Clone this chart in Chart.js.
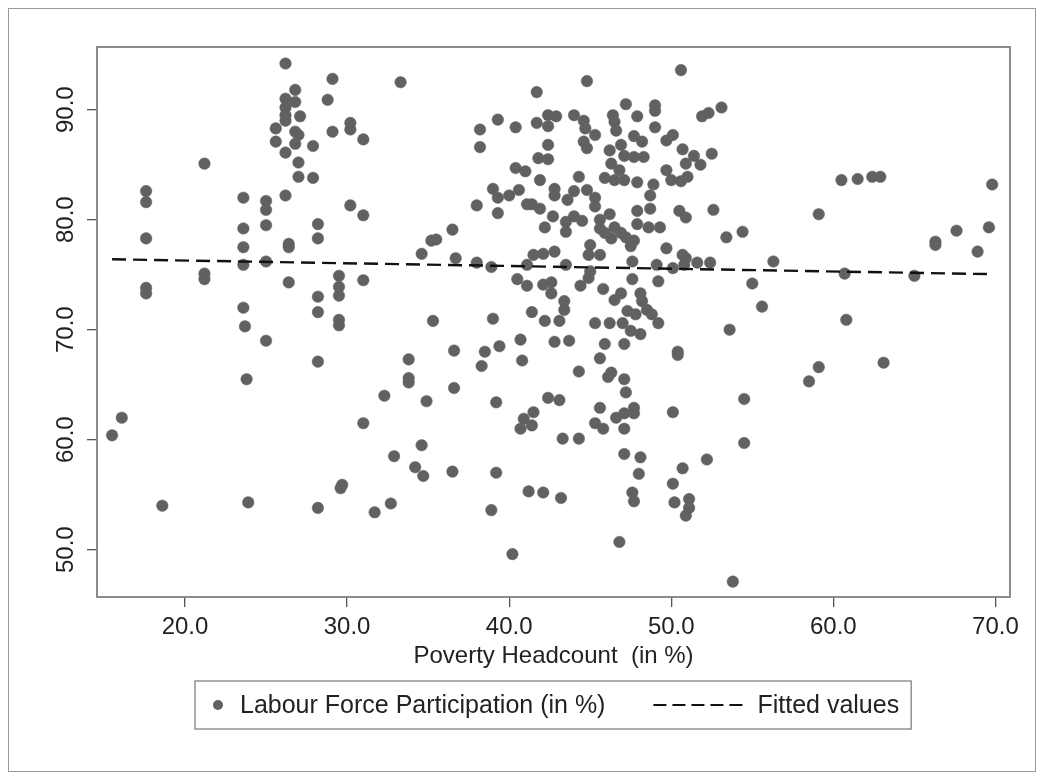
<!DOCTYPE html>
<html lang="en">
<head>
<meta charset="UTF-8">
<title>Labour Force Participation vs Poverty Headcount</title>
<script src="https://cdn.jsdelivr.net/npm/chart.js"></script>
<style>
  body { margin: 0; background: #fff; }
  .wrap { position: relative; width: 1043px; height: 779px; }
  .outer { position: absolute; left: 8px; top: 8px; width: 1026px; height: 762px; border: 1px solid #9a9a9a; pointer-events: none; }
</style>
</head>
<body>
<div class="wrap">
  <canvas id="scatter" width="1043" height="779"></canvas>
  <div class="outer"></div>
</div>
<script>
// values
const povertyHeadcount = [
  26.2, 29.1, 33.3, 26.8, 26.2, 26.8, 28.8, 26.2, 26.2, 27.1, 26.2, 25.6, 26.8, 27.0, 29.1, 30.2, 30.2, 31.0, 25.6, 26.8,
  27.9, 26.2, 27.0, 21.2, 27.0, 27.9, 17.6, 17.6, 23.6, 25.0, 25.0, 26.2, 30.2, 31.0, 23.6, 25.0, 28.2, 28.2, 17.6, 23.6,
  26.4, 26.4, 23.6, 25.0, 21.2, 21.2, 26.4, 29.5, 29.5, 29.5, 31.0, 17.6, 17.6, 28.2, 28.2, 23.6, 29.5, 23.7,
  29.5, 25.0, 28.2, 23.8, 32.3, 31.0, 32.9, 16.1, 15.5, 18.6, 23.9, 28.2, 29.7, 29.6, 31.7, 32.7,
  35.3, 39.0, 42.2, 43.1, 45.3, 46.2, 47.0, 49.2, 47.5, 48.1, 33.8, 33.8, 33.8, 36.6, 36.6, 34.9, 38.5, 39.4, 38.3, 40.7,
  40.8, 39.2, 42.8, 43.7, 44.3, 45.6, 45.9, 47.1, 46.1, 46.3, 47.1, 47.2, 50.4, 50.4, 42.4, 43.1, 41.5, 40.9, 41.4, 40.7,
  45.6, 45.3, 45.8, 46.6, 47.1, 47.7, 47.7, 47.1, 43.3, 44.3, 50.1, 52.2, 47.1, 48.1, 48.0, 50.7, 50.1, 50.2, 51.1, 51.1,
  50.9, 47.6, 47.7, 34.6, 34.2, 34.7, 36.5, 39.2, 41.2, 42.1, 43.2, 38.9, 40.2, 46.8,
  53.6, 60.8, 63.1, 59.1, 58.5, 54.5, 54.5, 53.8,
  53.1, 52.3, 51.9, 52.5, 52.6, 53.4, 54.4, 56.3, 55.0, 55.6, 59.1, 60.5, 61.5, 62.4, 62.9, 60.7, 65.0, 66.3, 66.3, 67.6,
  68.9, 69.6, 69.8,
  44.8, 50.6, 41.7, 47.2, 49.0, 49.0, 39.3, 38.2, 38.2, 40.4, 41.7, 42.4, 42.9, 42.4, 44.0, 44.6, 44.7, 45.3, 44.6, 44.8,
  46.4, 46.5, 46.6, 47.9, 49.0, 47.7, 48.2, 46.9, 46.2, 47.1, 47.7, 48.3, 49.7, 50.1, 50.7, 51.4, 51.8, 50.9, 49.7, 50.0,
  50.6, 51.0, 46.3, 46.8, 45.9, 46.5, 47.1, 47.9, 48.9, 48.7, 47.9, 48.7, 47.9, 48.6, 49.3, 50.5, 50.9, 41.9, 41.8, 42.4,
  42.4, 40.4, 41.0, 44.3, 42.8, 42.8, 44.0, 43.6, 44.8, 45.3, 45.3, 39.0, 39.3, 40.0, 40.6, 38.0, 39.3, 41.1, 41.4, 41.9,
  42.7, 42.2, 43.5, 43.5, 44.0, 44.5, 45.6, 46.2, 45.6, 45.9, 46.5, 46.3, 46.9, 47.2, 47.7, 47.5, 49.7, 50.7, 50.9, 51.6,
  52.4, 50.1, 50.8, 49.1, 47.6, 47.6, 49.2, 45.0, 44.9, 45.6, 45.0, 44.9, 44.4, 41.5, 42.1, 42.8, 43.5, 41.1, 38.0, 38.9,
  36.7, 34.6, 35.2, 35.5, 36.5, 40.5, 41.1, 42.1, 42.6, 42.6, 43.4, 43.4, 41.4, 45.8, 46.5, 46.9, 48.1, 48.2, 48.5, 47.3,
  47.8, 48.8
];
const labourForce = [
  94.2, 92.8, 92.5, 91.8, 91.0, 90.7, 90.9, 90.2, 89.5, 89.4, 89.0, 88.3, 88.0, 87.7, 88.0, 88.8, 88.2, 87.3, 87.1, 86.9,
  86.7, 86.1, 85.2, 85.1, 83.9, 83.8, 82.6, 81.6, 82.0, 81.7, 80.9, 82.2, 81.3, 80.4, 79.2, 79.5, 79.6, 78.3, 78.3, 77.5,
  77.8, 77.5, 75.9, 76.2, 75.1, 74.6, 74.3, 74.9, 73.9, 73.1, 74.5, 73.8, 73.3, 73.0, 71.6, 72.0, 70.9, 70.3,
  70.4, 69.0, 67.1, 65.5, 64.0, 61.5, 58.5, 62.0, 60.4, 54.0, 54.3, 53.8, 55.9, 55.6, 53.4, 54.2,
  70.8, 71.0, 70.8, 70.8, 70.6, 70.6, 70.6, 70.6, 69.9, 69.6, 67.3, 65.6, 65.2, 68.1, 64.7, 63.5, 68.0, 68.5, 66.7, 69.1,
  67.2, 63.4, 68.9, 69.0, 66.2, 67.4, 68.7, 68.7, 65.7, 66.1, 65.5, 64.3, 68.0, 67.7, 63.8, 63.6, 62.5, 61.9, 61.3, 61.0,
  62.9, 61.5, 61.0, 62.0, 62.4, 62.9, 62.4, 61.0, 60.1, 60.1, 62.5, 58.2, 58.7, 58.4, 56.9, 57.4, 56.0, 54.3, 54.6, 53.8,
  53.1, 55.2, 54.4, 59.5, 57.5, 56.7, 57.1, 57.0, 55.3, 55.2, 54.7, 53.6, 49.6, 50.7,
  70.0, 70.9, 67.0, 66.6, 65.3, 63.7, 59.7, 47.1,
  90.2, 89.7, 89.4, 86.0, 80.9, 78.4, 78.9, 76.2, 74.2, 72.1, 80.5, 83.6, 83.7, 83.9, 83.9, 75.1, 74.9, 78.0, 77.7, 79.0,
  77.1, 79.3, 83.2,
  92.6, 93.6, 91.6, 90.5, 90.4, 89.9, 89.1, 88.2, 86.6, 88.4, 88.8, 89.5, 89.4, 88.5, 89.5, 89.0, 88.3, 87.7, 87.1, 86.5,
  89.5, 88.9, 88.1, 89.4, 88.4, 87.6, 87.1, 86.8, 86.3, 85.8, 85.7, 85.7, 87.2, 87.7, 86.4, 85.8, 85.0, 85.1, 84.5, 83.6,
  83.5, 83.9, 85.1, 84.5, 83.8, 83.6, 83.6, 83.4, 83.2, 82.2, 80.8, 81.0, 79.6, 79.3, 79.3, 80.8, 80.2, 83.6, 85.6, 85.5,
  86.8, 84.7, 84.4, 83.9, 82.8, 82.2, 82.6, 81.8, 82.7, 82.0, 81.2, 82.8, 82.0, 82.2, 82.7, 81.3, 80.6, 81.4, 81.4, 81.0,
  80.3, 79.3, 79.8, 78.9, 80.3, 79.9, 80.0, 80.5, 79.2, 78.8, 79.3, 78.3, 78.8, 78.4, 78.1, 77.6, 77.4, 76.8, 76.5, 76.1,
  76.1, 75.6, 75.9, 75.9, 76.2, 74.6, 74.4, 77.7, 76.8, 76.8, 75.3, 74.7, 74.0, 76.8, 76.9, 77.1, 75.9, 75.9, 76.1, 75.7,
  76.5, 76.9, 78.1, 78.2, 79.1, 74.6, 74.0, 74.1, 74.3, 73.3, 72.6, 71.8, 71.6, 73.7, 72.7, 73.3, 73.3, 72.6, 71.8, 71.7,
  71.4, 71.4
];
const fittedX = [15.5, 69.8];
const fittedY = [76.4, 75.05];
const xTicks = [20, 30, 40, 50, 60, 70];
const yTicks = [50, 60, 70, 80, 90];

const FONT = '"Liberation Sans", Arial, Helvetica, sans-serif';
const TEXT = '#222';
const DOT = '#616161';

const points = povertyHeadcount.map((x, i) => ({ x: x, y: labourForce[i] }));
const fitted = fittedX.map((x, i) => ({ x: x, y: fittedY[i] }));

// plot frame, rotated y labels and boxed legend
const extras = {
  id: 'extras',
  afterDraw(chart) {
    const ctx = chart.ctx;
    const a = chart.chartArea;
    ctx.save();
    ctx.strokeStyle = '#808080';
    ctx.lineWidth = 1.8;
    ctx.strokeRect(a.left, a.top, a.right - a.left, a.bottom - a.top);

    ctx.fillStyle = TEXT;
    ctx.font = '24px ' + FONT;
    ctx.textAlign = 'center';
    ctx.textBaseline = 'middle';
    const ys = chart.scales.y;
    yTicks.forEach(v => {
      ctx.save();
      ctx.translate(66, ys.getPixelForValue(v));
      ctx.rotate(-Math.PI / 2);
      ctx.fillText(v.toFixed(1), 0, 0);
      ctx.restore();
    });

    // legend
    ctx.font = '25px ' + FONT;
    const ds = chart.data.datasets;
    const w1 = ctx.measureText(ds[0].label).width;
    const w2 = ctx.measureText(ds[1].label).width;
    const lineW = 90;
    const boxW = 45 + w1 + 48 + lineW + 14 + w2 + 12;
    const cx = (a.left + a.right) / 2;
    const bx = Math.round(cx - boxW / 2), by = 681, bh = 48;
    const cy = by + bh / 2;
    ctx.lineWidth = 1.2;
    ctx.strokeStyle = '#777';
    ctx.strokeRect(bx, by, boxW, bh);
    ctx.fillStyle = DOT;
    ctx.beginPath();
    ctx.arc(bx + 23, cy, 5, 0, Math.PI * 2);
    ctx.fill();
    let x = bx + 45;
    ctx.fillStyle = TEXT;
    ctx.textAlign = 'left';
    ctx.fillText(ds[0].label, x, cy + 1);
    x += w1 + 48;
    ctx.strokeStyle = '#111';
    ctx.lineWidth = 2.2;
    ctx.setLineDash([13, 6]);
    ctx.beginPath();
    ctx.moveTo(x, cy);
    ctx.lineTo(x + lineW, cy);
    ctx.stroke();
    ctx.setLineDash([]);
    x += lineW + 14;
    ctx.fillText(ds[1].label, x, cy + 1);
    ctx.restore();
  }
};

new Chart(document.getElementById('scatter'), {
  type: 'scatter',
  data: {
    datasets: [
      {
        label: 'Labour Force Participation (in %)',
        data: points,
        backgroundColor: DOT,
        borderColor: 'rgba(97,97,97,0.45)',
        borderWidth: 1,
        pointRadius: 5.8,
        order: 1
      },
      {
        type: 'line',
        label: 'Fitted values',
        data: fitted,
        borderColor: '#111',
        borderWidth: 2.4,
        borderDash: [14, 7],
        pointRadius: 0,
        fill: false,
        order: 0
      }
    ]
  },
  options: {
    responsive: false,
    animation: false,
    devicePixelRatio: 1,
    layout: { autoPadding: false, padding: { left: 0, right: 33, top: 47, bottom: 102 } },
    plugins: { legend: { display: false }, tooltip: { enabled: false } },
    scales: {
      x: {
        type: 'linear',
        min: 14.57,
        max: 70.9,
        afterBuildTicks: s => { s.ticks = xTicks.map(v => ({ value: v })); },
        afterFit: s => { s.height = 80; },
        border: { display: false },
        grid: { drawOnChartArea: false, drawTicks: true, tickLength: 10, color: '#555', lineWidth: 1.3 },
        ticks: { autoSkip: false, maxRotation: 0, padding: 6, color: TEXT, font: { family: FONT, size: 24 }, callback: v => v.toFixed(1) },
        title: { display: true, text: 'Poverty Headcount  (in %)', color: TEXT, font: { family: FONT, size: 24 }, padding: { top: 0, bottom: 6 } }
      },
      y: {
        type: 'linear',
        min: 45.7,
        max: 95.7,
        afterBuildTicks: s => { s.ticks = yTicks.map(v => ({ value: v })); },
        afterFit: s => { s.width = 97; },
        border: { display: false },
        grid: { drawOnChartArea: false, drawTicks: true, tickLength: 10, color: '#555', lineWidth: 1.3 },
        ticks: { display: false }
      }
    }
  },
  plugins: [extras]
});
</script>
</body>
</html>
